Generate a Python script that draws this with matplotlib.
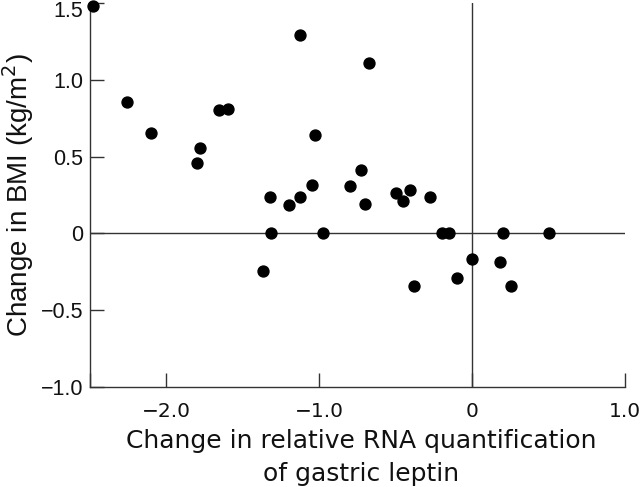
import matplotlib
matplotlib.use('Agg')
import matplotlib.pyplot as plt
import matplotlib.transforms as mtransforms

# === Data ===
rna_change = [-2.48, -2.255, -2.10, -1.80, -1.783, -1.657, -1.596, -1.128, -1.028,
              -1.325, -1.198, -1.126, -1.048, -1.318, -0.974, -0.677, -0.801, -0.727,
              -0.701, -0.50, -0.454, -0.404, -0.275, -0.194, -0.150, 0.199, 0.50,
              -0.378, -0.100, 0.0, 0.179, 0.251, -1.371]
bmi_change = [1.48, 0.858, 0.656, 0.457, 0.556, 0.806, 0.811, 1.289, 0.641,
              0.239, 0.183, 0.235, 0.313, 0.0, 0.0, 1.109, 0.311, 0.411,
              0.191, 0.261, 0.209, 0.284, 0.239, 0.0, 0.0, 0.0, 0.0,
              -0.344, -0.287, -0.168, -0.189, -0.342, -0.246]

x_ticks = [-2.5, -2.0, -1.0, 0.0, 1.0]
x_labels = ['', '\u22122.0', '\u22121.0', '0', '1.0']
y_ticks = [-1.0, -0.5, 0.0, 0.5, 1.0, 1.5]
y_labels = ['\u22121.0', '\u22120.5', '0', '0.5', '1.0', '1.5']

plt.rcParams['font.family'] = ['Liberation Sans', 'DejaVu Sans']
wide_font = ['DejaVu Sans']   # the x-axis text in the reference is set wider
line_col = '#333333'
text_col = '#111111'

fig = plt.figure(figsize=(6.4, 4.87), dpi=100)
ax = fig.add_axes([0.1406, 0.2053, 0.8360, 0.7885])

ax.axhline(0, color=line_col, lw=1.0, zorder=1)
ax.axvline(0, color=line_col, lw=1.0, zorder=1)
ax.scatter(rna_change, bmi_change, s=62, color='black', zorder=3, clip_on=False)

ax.set_xlim(-2.5, 1.0)
ax.set_ylim(-1.0, 1.5)
ax.set_xticks(x_ticks)
ax.set_xticklabels(x_labels, fontsize=14.5, family=wide_font)
ax.set_yticks(y_ticks)
ax.set_yticklabels(y_labels, fontsize=15.5)

for side in ['top', 'right']:
    ax.spines[side].set_visible(False)
for side in ['left', 'bottom']:
    ax.spines[side].set_color(line_col)
    ax.spines[side].set_linewidth(1.0)

ax.tick_params(axis='both', direction='in', length=10, width=1.0, color=line_col,
               labelcolor=text_col)
ax.tick_params(axis='x', pad=11)
ax.tick_params(axis='y', pad=5)

# top label sits a little lower so it is not cut off
top_lbl = ax.get_yticklabels()[-1]
top_lbl.set_transform(top_lbl.get_transform() +
                      mtransforms.ScaledTranslation(0, -6 / 100, fig.dpi_scale_trans))

ax.set_xlabel('Change in relative RNA quantification\nof gastric leptin',
              fontsize=18, family=wide_font, color=text_col, linespacing=1.45)
ax.xaxis.set_label_coords(0.507, -0.11)
ax.set_ylabel('Change in BMI (kg/m$^2$)', fontsize=20, color=text_col)
ax.yaxis.set_label_coords(-0.100, 0.5)

fig.savefig('out.png', dpi=100)
